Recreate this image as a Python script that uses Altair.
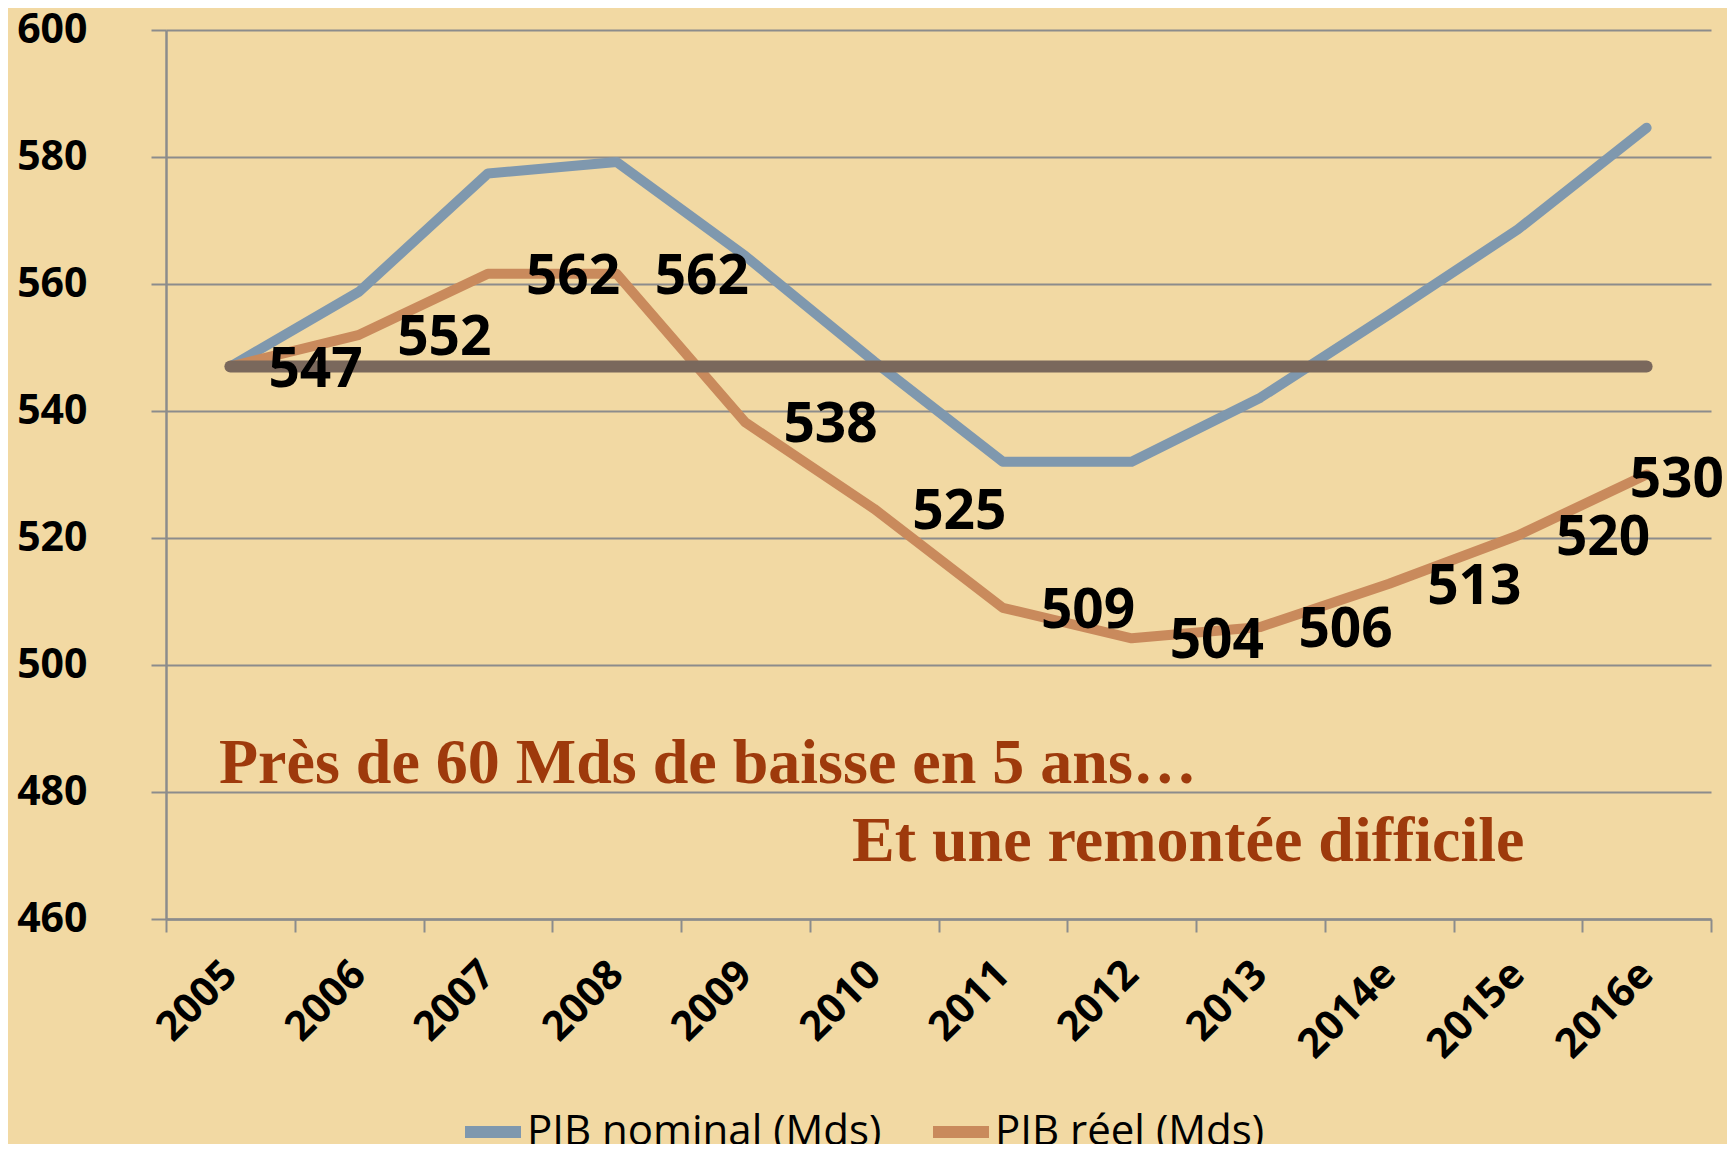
import altair as alt
import pandas as pd

# ---- data ----
years = ["2005", "2006", "2007", "2008", "2009", "2010", "2011", "2012",
         "2013", "2014e", "2015e", "2016e"]
nominal = [547, 558.8, 577.4, 579.2, 564.4, 547.8, 532.0, 532.0, 542.1, 555.2, 568.6, 584.6]
reel = [547, 552, 561.6, 561.6, 538.2, 524.6, 509, 504.2, 506, 512.8, 520.4, 530]
series_names = ["PIB nominal (Mds)", "PIB réel (Mds)"]
base_level = [547] * len(years)
y_ticks = [460, 480, 500, 520, 540, 560, 580, 600]
notes = ["Près de 60 Mds de baisse en 5 ans…", "Et une remontée difficile"]

# ---- styles ----
BG = "#f2d9a3"
BLUE = "#7f98ae"
ORANGE = "#c98a5c"
BROWN = "#7a685c"
GRID = "#8c8c8c"
NOTE = "#9e3a0c"

df = pd.DataFrame({
    "annee": years * 2,
    "valeur": nominal + reel,
    "serie": [series_names[0]] * len(years) + [series_names[1]] * len(years),
})
lab_df = pd.DataFrame({"annee": years, "valeur": reel})
base_df = pd.DataFrame({"annee": years, "valeur": base_level})
notes_df = pd.DataFrame({"texte": notes})

x_enc = alt.X(
    "annee:N", sort=years, bandPosition=0.5,
    scale=alt.Scale(type="band", domain=years, paddingInner=0, paddingOuter=0),
    axis=alt.Axis(
        title=None, labelAngle=-45, labelAlign="right", labelBaseline="middle",
        labelFont="Open Sans", labelFontWeight="bold", labelFontSize=41,
        labelColor="#000000", labelPadding=36, tickBand="extent", tickSize=13,
        tickColor=GRID, tickWidth=2, domainColor=GRID, domainWidth=2.5,
        grid=False, labelOverlap=False,
    ),
)
y_enc = alt.Y(
    "valeur:Q",
    scale=alt.Scale(domain=[460, 600], nice=False, zero=False),
    axis=alt.Axis(
        title=None, values=y_ticks, labelFont="Open Sans", labelFontWeight="bold",
        labelFontSize=41, labelColor="#000000", labelPadding=64, tickSize=15,
        tickColor=GRID, tickWidth=2, domainColor=GRID, domainWidth=2.5,
        grid=True, gridColor=GRID, gridWidth=2, labelBaseline="middle",
    ),
)

lines = alt.Chart(df).mark_line(strokeWidth=10, strokeCap="round", strokeJoin="round").encode(
    x=x_enc,
    y=y_enc,
    color=alt.Color(
        "serie:N",
        scale=alt.Scale(domain=series_names, range=[BLUE, ORANGE]),
        legend=alt.Legend(
            orient="none", legendX=293, legendY=1068, direction="horizontal",
            title=None, symbolType="stroke", symbolStrokeWidth=12, symbolSize=3136,
            labelFont="Open Sans", labelFontSize=42, labelColor="#000000",
            labelLimit=1000, labelOffset=0, columnPadding=27, padding=0,
        ),
    ),
    detail="serie:N",
)

base = alt.Chart(base_df).mark_line(strokeWidth=12, strokeCap="round", color=BROWN).encode(
    x=alt.X("annee:N", sort=years, bandPosition=0.5),
    y="valeur:Q",
)

labels = alt.Chart(lab_df).transform_filter(
    alt.datum.annee != years[-1]
).mark_text(
    align="left", baseline="middle", dx=38, dy=3, font="Open Sans",
    fontWeight="bold", fontSize=55, color="#000000",
).encode(
    x=alt.X("annee:N", sort=years, bandPosition=0.5),
    y="valeur:Q",
    text=alt.Text("valeur:Q", format=".0f"),
)

last_label = alt.Chart(lab_df).transform_filter(
    alt.datum.annee == years[-1]
).mark_text(
    align="left", baseline="middle", dx=-17, dy=5, font="Open Sans",
    fontWeight="bold", fontSize=55, color="#000000",
).encode(
    x=alt.X("annee:N", sort=years, bandPosition=0.5),
    y="valeur:Q",
    text=alt.Text("valeur:Q", format=".0f"),
)

note1 = alt.Chart(notes_df).transform_filter(
    alt.datum.texte == notes[0]
).mark_text(
    align="left", baseline="alphabetic", font="Liberation Serif",
    fontWeight="bold", fontSize=64, color=NOTE,
).encode(x=alt.value(53), y=alt.value(753), text="texte:N")

note2 = alt.Chart(notes_df).transform_filter(
    alt.datum.texte == notes[1]
).mark_text(
    align="left", baseline="alphabetic", font="Liberation Serif",
    fontWeight="bold", fontSize=64, color=NOTE,
).encode(x=alt.value(686), y=alt.value(831), text="texte:N")

chart = alt.layer(lines, base, labels, last_label, note1, note2).properties(
    width=1545, height=889,
    background=BG,
    padding={"left": 158, "top": 22, "right": 16, "bottom": 225},
    autosize=alt.AutoSizeParams(type="none"),
).configure_view(stroke=None)

chart.save("out.html", embed_options={"renderer": "svg", "actions": False})
